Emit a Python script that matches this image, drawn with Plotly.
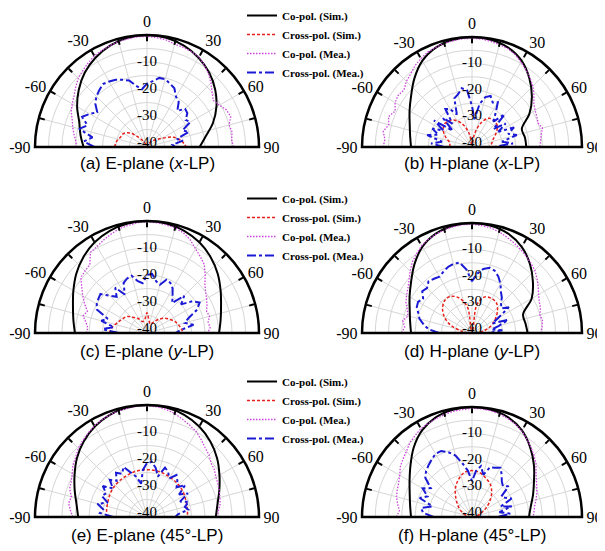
import plotly.graph_objects as go

# ---------------- data ----------------
theta_sim = [-90, -80, -70, -60, -50, -40, -30, -20, -10, 0, 10, 20, 30, 40, 50, 60, 70, 80, 90]
theta_mea = list(range(-90, 95, 5))

legend_names = ["Co-pol. (Sim.)", "Cross-pol. (Sim.)", "Co-pol. (Mea.)", "Cross-pol. (Mea.)"]
captions = ["(a) E-plane (<i>x</i>-LP)", "(b) H-plane (<i>x</i>-LP)",
            "(c) E-plane (<i>y</i>-LP)", "(d) H-plane (<i>y</i>-LP)",
            "(e) E-plane (45°-LP)", "(f) H-plane (45°-LP)"]

ang_tickvals = [-90, -75, -60, -45, -30, -15, 0, 15, 30, 45, 60, 75, 90]
ang_ticktext = ["-90", "", "-60", "", "-30", "", "0", "", "30", "", "60", "", "90"]
rad_tickvals = [-40, -35, -30, -25, -20, -15, -10, -5, 0]
rad_label_vals = [-40, -30, -20, -10]
rad_label_text = ["-40", "-30", "-20", "-10"]

# (a) E-plane x-LP
a_co_sim = [-18, -16.5, -14.8, -11.6, -8.5, -5.6, -3.3, -1.5, -0.4, 0, -0.4, -1.5, -3.3, -5.6, -8.5, -11.8, -15.5, -19.5, -22]
a_cx_sim = [-29.5, -30, -31, -31.5, -33.5, -37, -39.5, -41, -41.5, -41.5, -41.5, -41, -40, -38.5, -37.5, -35, -31, -28.5, -27]
a_co_mea = [-15.5, -15, -14, -13, -12, -10.5, -9.5, -8.5, -7, -5.5, -4.5, -3.5, -2.5, -2, -1.5, -1, -0.8, -0.5, -0.5,
            -0.8, -1.2, -2, -2.2, -2.5, -3, -4.5, -6, -8, -10, -11.5, -10.5, -9, -8.5, -10, -9.5, -10, -9.5]
a_cx_mea = [-22, -18, -21, -15.5, -18, -15, -17, -19, -16.5, -15, -14, -13, -13.5, -14, -15, -16, -18.5, -20, -18,
            -17, -15.5, -15.5, -16.5, -17.5, -20, -21, -24, -21.5, -22, -24, -23, -27, -25, -30, -28, -32, -31]

# (b) H-plane x-LP
b_co_sim = [-18.5, -17.8, -16.5, -14.3, -11.5, -7.7, -4, -1.6, -0.4, 0, -0.4, -1.6, -4, -7.8, -12, -16.5, -21.5, -21.2, -21]
b_cx_sim = [-33, -33, -31, -29, -28, -28.5, -30, -33, -37, -41.5, -37, -32, -29, -28.5, -29, -31, -33, -34, -35]
b_co_mea = [-8, -8.5, -7.5, -9, -8, -9.5, -8, -7.5, -8, -6.5, -5.5, -4, -3, -2, -1.5, -1, -0.8, -0.5, -0.5,
            -0.6, -1, -1.5, -2, -3, -4.5, -6, -7.5, -9, -11, -13, -14, -14.5, -15, -14, -15, -15.5, -16]
b_cx_mea = [-31, -26, -30, -24, -28, -25, -29, -24, -32, -26, -30, -24, -25, -28, -22, -21, -19, -20, -26,
            -31, -25, -22, -21, -23, -22, -26, -29, -24, -31, -26, -30, -24, -27, -24, -30, -26, -33]

# (c) E-plane y-LP
c_co_sim = [-14.8, -13.8, -12.3, -10, -7.3, -4.8, -2.7, -1.2, -0.3, 0, -0.3, -1.2, -2.7, -4.8, -7.3, -10, -12.3, -13.8, -14.8]
c_cx_sim = [-27.5, -28.5, -30, -31, -32, -34, -35.5, -37, -36.5, -34, -37, -38, -37, -35, -33, -31.5, -30, -29, -28]
c_co_mea = [-19, -19.5, -18.5, -17, -18, -16, -14, -12, -9.5, -9, -8.5, -5, -4.5, -3.5, -2.5, -1.5, -1, -0.5, -0.3,
            -0.5, -0.8, -1.2, -2, -3.5, -5.5, -7, -8.5, -11, -13.5, -15, -16, -17, -18, -17.5, -18.5, -18, -19]
c_cx_mea = [-31, -25, -29, -24, -26, -21, -20, -19.5, -19, -22, -24, -21, -25, -21, -20, -19.5, -22, -23, -20,
            -19.5, -22, -23, -20.5, -21, -22.5, -25, -27, -22, -25, -21, -19, -21, -25, -27, -24, -29, -31]

# (d) H-plane y-LP
d_co_sim = [-18.5, -17.8, -16.5, -14.3, -11.5, -7.7, -4, -1.6, -0.4, 0, -0.4, -1.6, -4, -7.5, -11.5, -15.5, -21, -21, -20.5]
d_cx_sim = [-40, -37.5, -33, -29.5, -27, -25.5, -25.5, -27.5, -31.5, -41.5, -30.5, -27, -26.5, -27, -29, -31.5, -34, -37, -40]
d_co_mea = [-15, -16, -15, -16.5, -15.5, -14, -13, -12, -10.5, -8.5, -6.5, -5, -3.5, -2.5, -1.8, -1.2, -0.8, -0.5, -0.5,
            -0.8, -1.2, -2, -3, -4, -5, -6, -7, -8, -9.5, -11, -12.5, -13.5, -14, -15, -14.5, -15, -15.5]
d_cx_mea = [-29, -25, -23, -21, -20, -18.5, -18, -19, -17, -17.5, -16, -16.5, -17, -16, -15, -14.5, -14.5, -17.5, -22,
            -19, -17, -16, -16.5, -18, -20, -22.5, -24, -26, -27, -24.5, -30, -33, -27, -31, -34, -30, -35]

# (e) E-plane 45-LP
e_co_sim = [-16, -15, -13, -10.5, -7.6, -5, -2.8, -1.2, -0.3, 0, -0.3, -1.2, -2.8, -5, -7.6, -10.5, -13, -15, -16]
e_cx_sim = [-26.5, -26.3, -26, -25.5, -25, -24.7, -24.5, -24.2, -24, -24, -24, -24.2, -24.5, -24.7, -25, -25.5, -26, -26.3, -26.5]
e_co_mea = [-14, -13, -12, -12.5, -11, -10.5, -9.5, -8, -7, -5.5, -4.5, -3.5, -2.5, -1.8, -1.2, -0.8, -0.5, -0.3, -0.3,
            -0.5, -1, -1.8, -3, -4, -5, -6.5, -8, -9, -10.5, -11, -12, -12.5, -13, -13.5, -14, -15, -15.5]
e_cx_mea = [-29, -24, -25, -22.5, -26, -23, -24, -21.5, -25, -22, -24, -21.5, -23, -21, -24, -26, -29, -24, -21.5,
            -21, -23, -26, -22, -23, -25, -22.5, -24, -26, -23, -27, -24, -28, -25, -27, -26, -30, -31]

# (f) H-plane 45-LP
f_co_sim = [-18.5, -17.8, -16.5, -14.3, -11.2, -7.3, -3.8, -1.5, -0.4, 0, -0.4, -1.5, -3.8, -7.3, -11, -14.5, -17, -19, -20]
f_cx_sim = [-41, -40, -38.5, -36.5, -34.5, -32, -29, -26.5, -24.5, -24, -24.5, -26, -27.5, -30, -33, -36, -38.5, -40, -41]
f_co_mea = [-13, -14, -13, -12, -11.5, -11, -10, -8.5, -7.5, -6.5, -5, -4, -3, -2.5, -2, -1.5, -1, -0.8, -0.5,
            -0.5, -0.8, -1.2, -2, -2.8, -4, -5.5, -7, -8.5, -10, -12, -13.5, -14.5, -15.5, -16.5, -17.5, -18, -18.5]
f_cx_mea = [-27, -23, -22, -26, -20.5, -23, -20, -22.5, -18.5, -17, -16, -15, -14, -14, -15.5, -17.5, -21, -24, -28,
            -24, -22, -25, -21.5, -21, -20, -22, -24, -25, -23.5, -28, -27, -25, -30, -26, -31, -27, -32]

panels = [
    (a_co_sim, a_cx_sim, a_co_mea, a_cx_mea),
    (b_co_sim, b_cx_sim, b_co_mea, b_cx_mea),
    (c_co_sim, c_cx_sim, c_co_mea, c_cx_mea),
    (d_co_sim, d_cx_sim, d_co_mea, d_cx_mea),
    (e_co_sim, e_cx_sim, e_co_mea, e_cx_mea),
    (f_co_sim, f_cx_sim, f_co_mea, f_cx_mea),
]

# ---------------- layout geometry (window pixels; page body has an 8px margin) ----------------
OFF = 8
W, H = 597, 543
centers = [(147, 147), (472, 147), (147, 333), (472, 333), (147, 517), (472, 517)]
radii = [112, 110, 112, 110, 112, 110]
legend_tops = [1, 184, 367]
legend_left = 242
caption_y = [163, 163, 351, 351, 535, 535]


def px(x):
    return (x - OFF) / W


def py(y):
    return 1 - (y - OFF) / H


RED = "#e8201c"
PINK = "#cc44dd"
BLUE = "#1a1ad6"
serif = "Liberation Serif"

fig = go.Figure()

for i, (co_sim, cx_sim, co_mea, cx_mea) in enumerate(panels):
    sub = "polar" if i == 0 else f"polar{i + 1}"
    row = i // 2
    leg = "legend" if row == 0 else f"legend{row + 1}"
    show = (i % 2 == 0)
    specs = [
        (theta_sim, co_sim, dict(color="black", width=2, shape="spline")),
        (theta_sim, cx_sim, dict(color=RED, width=1.5, dash="3px,2px", shape="spline")),
        (theta_mea, co_mea, dict(color=PINK, width=1.3, dash="1.5px,1.5px")),
        (theta_mea, cx_mea, dict(color=BLUE, width=2, dash="dashdot")),
    ]
    for name, (th, rr, ln) in zip(legend_names, specs):
        fig.add_trace(go.Scatterpolar(
            theta=th, r=rr, mode="lines", line=ln, name=name,
            subplot=sub, legend=leg, showlegend=show,
        ))
    # radial tick labels centred on the 0-degree spoke
    fig.add_trace(go.Scatterpolar(
        theta=[0] * len(rad_label_vals), r=rad_label_vals, text=rad_label_text,
        mode="text", textposition="middle center", cliponaxis=False,
        textfont=dict(family=serif, size=15, color="black"),
        subplot=sub, showlegend=False, hoverinfo="skip",
    ))

layout = dict(
    width=W, height=H, margin=dict(l=0, r=0, t=0, b=0, autoexpand=False),
    paper_bgcolor="white", plot_bgcolor="white",
    annotations=[],
)

for i in range(6):
    cx, cy = centers[i]
    R = radii[i]
    key = "polar" if i == 0 else f"polar{i + 1}"
    layout[key] = dict(
        domain=dict(x=[px(cx - R), px(cx + R)], y=[py(cy), py(cy - R)]),
        sector=[0, 180],
        bgcolor="white",
        angularaxis=dict(
            rotation=90, direction="clockwise",
            tickmode="array", tickvals=ang_tickvals, ticktext=ang_ticktext,
            ticks="inside", ticklen=5, tickwidth=1.5, tickcolor="black",
            showline=True, linecolor="black", linewidth=2.5,
            gridcolor="#d6d6d6", gridwidth=1,
            tickfont=dict(family=serif, size=16, color="black"),
        ),
        radialaxis=dict(
            range=[-41.5, 0], angle=90,
            tickmode="array", tickvals=rad_tickvals,
            showticklabels=False, showline=False, ticks="",
            gridcolor="#d6d6d6", gridwidth=1,
        ),
    )
    layout["annotations"].append(dict(
        text=captions[i], x=px(cx), y=py(caption_y[i]), xref="paper", yref="paper",
        xanchor="center", yanchor="middle", showarrow=False,
        font=dict(family="Liberation Sans", size=17, color="black"),
    ))

for r in range(3):
    key = "legend" if r == 0 else f"legend{r + 1}"
    layout[key] = dict(
        x=px(legend_left), y=py(legend_tops[r]), xanchor="left", yanchor="top",
        bgcolor="rgba(0,0,0,0)", borderwidth=0,
        font=dict(family=serif, size=11, color="black", weight="bold"),
        itemwidth=30, tracegroupgap=0,
    )

fig.update_layout(**layout)
fig.write_html("out.html")
